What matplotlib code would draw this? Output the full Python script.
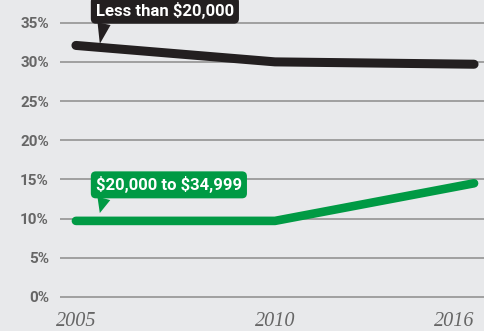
import matplotlib.pyplot as plt
from matplotlib.ticker import FuncFormatter

plt.rcParams['text.parse_math'] = False

years = ['2005', '2010', '2016']
less_20k = [32.1, 30.0, 29.7]
mid_20k_35k = [9.7, 9.7, 14.5]

BG = '#e8e9eb'
BLACK = '#231f20'
GREEN = '#009a44'
GRAY = '#666666'

fig = plt.figure(figsize=(4.85, 3.31), dpi=100, facecolor=BG)
ax = fig.add_axes([60 / 485, 1 - 300 / 331, 425 / 485, 300 / 331])
ax.set_facecolor(BG)

x = list(range(len(years)))
ax.plot(x, less_20k, color=BLACK, lw=6.5, solid_capstyle='round', solid_joinstyle='round', clip_on=False, zorder=3)
ax.plot(x, mid_20k_35k, color=GREEN, lw=6.2, solid_capstyle='round', solid_joinstyle='round', clip_on=False, zorder=3)

ax.set_xlim(-0.08, 2.055)
ax.set_ylim(-0.4, 37.9)
ax.set_yticks(range(0, 36, 5))
ax.yaxis.set_major_formatter(FuncFormatter(lambda v, p: f'{v:.0f}%'))
ax.grid(axis='y', color='#9a9a9a', lw=1.3)
ax.set_axisbelow(True)
for s in ax.spines.values():
    s.set_visible(False)
ax.tick_params(axis='y', length=0, pad=8, labelsize=11, labelcolor=GRAY)
for lab in ax.get_yticklabels():
    lab.set_fontweight('bold')
    lab.set_family('Roboto')

ax.set_xticks(x)
ax.set_xticklabels(years, family='Liberation Serif', style='italic', fontsize=14.5, color=GRAY)
ax.tick_params(axis='x', length=0, pad=9)
ax.get_xticklabels()[-1].set_horizontalalignment('right')
ax.get_xticklabels()[-1].set_x(2.05)

# callouts
def callout(label, xy, xytext, color):
    ax.annotate(label, xy=xy, xytext=xytext, textcoords='data',
                ha='left', va='center', color='white', fontsize=12, fontweight='bold',
                family='Roboto', annotation_clip=False, zorder=5,
                bbox=dict(boxstyle='round,pad=0.3,rounding_size=0.3', fc=color, ec='none'),
                arrowprops=dict(arrowstyle='wedge,tail_width=0.8,shrink_factor=0.5', fc=color, ec='none',
                                shrinkA=0, shrinkB=0, relpos=(0.08, 0.5)))

callout('Less than $20,000', (0.12, 32.3), (0.1, 36.6), BLACK)
callout('$20,000 to $34,999', (0.12, 10.7), (0.1, 14.3), GREEN)

fig.savefig('out.png', dpi=100, facecolor=BG)
